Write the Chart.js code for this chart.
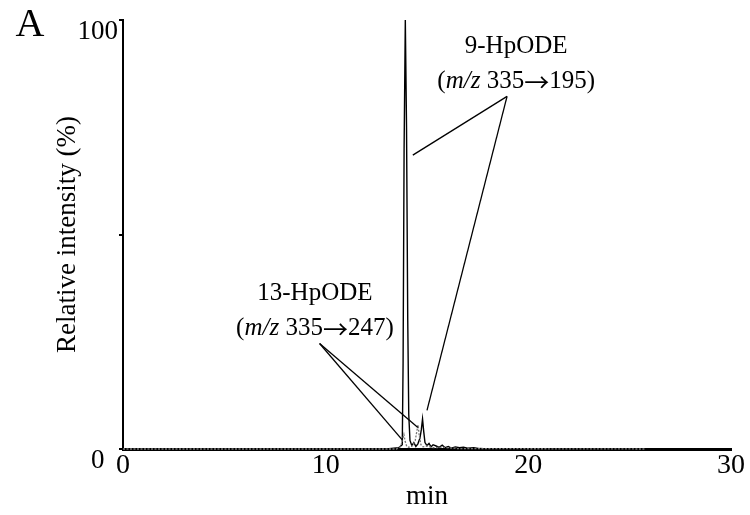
<!DOCTYPE html>
<html>
<head>
<meta charset="utf-8">
<script src="https://cdn.jsdelivr.net/npm/chart.js@4"></script>
<style>
  html, body { margin: 0; padding: 0; background: #fff; }
  #wrap { width: 750px; height: 515px; }
</style>
</head>
<body>
<div id="wrap"><canvas id="myChart" width="750" height="515"></canvas></div>
<script>
// retention time (min) and relative intensity (%)
const time9 = [0, 13.0, 13.6, 13.78, 13.82, 13.87, 13.93, 13.99, 14.05, 14.10, 14.16, 14.25, 14.35, 14.45, 14.55,
    14.65, 14.72, 14.78, 14.84, 14.9, 15.0, 15.1, 15.2, 15.3, 15.45, 15.6, 15.75, 15.9, 16.05, 16.2, 16.4, 16.6,
    16.8, 17.0, 17.3, 17.6, 18.0, 25.8];
const int9 = [0, 0, 0.3, 1.0, 20, 70, 100, 75, 30, 8, 2, 0.8, 1.5, 0.6, 1.2,
    2.5, 4.5, 7.0, 4.0, 1.5, 0.8, 1.3, 0.5, 1.0, 0.7, 0.4, 0.9, 0.3, 0.6, 0.2, 0.5, 0.3,
    0.4, 0.2, 0.3, 0.1, 0, 0];

const time13 = [0, 13.5, 13.7, 13.8, 13.86, 13.92, 14.0, 14.1, 14.3, 14.42, 14.5, 14.56, 14.62, 14.7, 14.8,
    15.0, 15.3, 15.8, 16.5, 25.8];
const int13 = [0, 0, 0.6, 2.2, 3.4, 1.8, 0.6, 0.4, 0.8, 2.0, 4.2, 5.6, 3.0, 1.0, 0.5,
    0.7, 0.3, 0.4, 0.1, 0];

const xTicks = [0, 10, 20, 30];
const yTicks = [0, 50, 100];
const yTickLabels = ['0', '', '100'];

// annotation anchors in data units: label centre, leader start, leader targets
const notes = [
    { lines: [[['9-HpODE', 0]], [['(', 0], ['m/z', 1], [' 335', 0], ['\u2192', 2], ['195)', 0]]],
      at: [19.4, 93.9], gap: 8.2, from: [18.95, 82.2], to: [[14.3, 68.5], [15.0, 9.0]] },
    { lines: [[['13-HpODE', 0]], [['(', 0], ['m/z', 1], [' 335', 0], ['\u2192', 2], ['247)', 0]]],
      at: [9.47, 36.2], gap: 8.2, from: [9.7, 24.6], to: [[13.8, 2.0], [14.55, 5.0]] }
];

const toPts = (xs, ys) => xs.map((x, i) => ({ x: x, y: ys[i] }));

Chart.defaults.font.family = '"Liberation Serif", "Times New Roman", serif';
Chart.defaults.color = '#000';

const FONTS = [
    '25px "Liberation Serif", serif',
    'italic 25px "Liberation Serif", serif',
    '25px "Noto Sans CJK JP", "DejaVu Sans", sans-serif'
];

function richText(ctx, parts, cx, cy) {
    let w = 0;
    parts.forEach(p => { ctx.font = FONTS[p[1]]; w += ctx.measureText(p[0]).width; });
    let x = cx - w / 2;
    parts.forEach(p => {
        ctx.font = FONTS[p[1]];
        ctx.fillText(p[0], x, cy + (p[1] === 2 ? 1 : 0));
        x += ctx.measureText(p[0]).width;
    });
}

const notesPlugin = {
    id: 'notes',
    afterDraw(chart) {
        const ctx = chart.ctx, xs = chart.scales.x, ys = chart.scales.y;
        ctx.save();
        ctx.fillStyle = '#000';
        ctx.strokeStyle = '#000';
        ctx.lineWidth = 1.3;
        ctx.textAlign = 'left';
        ctx.textBaseline = 'middle';
        notes.forEach(n => {
            n.lines.forEach((ln, i) => {
                richText(ctx, ln, xs.getPixelForValue(n.at[0]), ys.getPixelForValue(n.at[1] - i * n.gap));
            });
            const fx = xs.getPixelForValue(n.from[0]), fy = ys.getPixelForValue(n.from[1]);
            n.to.forEach(t => {
                ctx.beginPath();
                ctx.moveTo(fx, fy);
                ctx.lineTo(xs.getPixelForValue(t[0]), ys.getPixelForValue(t[1]));
                ctx.stroke();
            });
        });
        ctx.font = '40px "Liberation Serif", serif';
        ctx.textAlign = 'center';
        ctx.fillText('A', 30, 25);
        ctx.restore();
    }
};

const config = {
    type: 'line',
    data: {
        datasets: [
            {
                label: '13-HpODE',
                data: toPts(time13, int13),
                borderColor: '#777',
                borderWidth: 1.3,
                borderDash: [2, 1.5],
                pointRadius: 0,
                tension: 0
            },
            {
                label: '9-HpODE',
                data: toPts(time9, int9),
                borderColor: '#000',
                borderWidth: 1.4,
                pointRadius: 0,
                tension: 0
            }
        ]
    },
    options: {
        responsive: false,
        animation: false,
        clip: false,
        layout: { padding: { top: 20, right: 19, left: 0, bottom: 0 } },
        plugins: { legend: { display: false }, tooltip: { enabled: false } },
        scales: {
            x: {
                type: 'linear',
                min: 0,
                max: 30,
                afterBuildTicks: s => { s.ticks = xTicks.map(v => ({ value: v })); },
                afterFit: s => { s.height = 66; },
                grid: { display: false, drawTicks: false },
                border: { display: true, color: '#000', width: 3 },
                ticks: { padding: 0, maxRotation: 0, font: { size: 28 }, color: '#000' },
                title: { display: true, text: 'min', font: { size: 27 }, color: '#000', padding: { top: 0, bottom: 2 } }
            },
            y: {
                min: 0,
                max: 100,
                afterBuildTicks: s => { s.ticks = yTicks.map(v => ({ value: v })); },
                afterFit: s => { s.width = 123; },
                grid: { display: true, drawOnChartArea: false, drawTicks: true, tickLength: 4, color: '#000', lineWidth: 2 },
                border: { display: true, color: '#000', width: 2 },
                ticks: {
                    padding: 1,
                    labelOffset: 12,
                    font: { size: 27 },
                    color: '#000',
                    callback: v => {
                        const t = yTickLabels[yTicks.indexOf(v)];
                        return t === '0' ? '0\u2002' : t;
                    }
                },
                title: { display: true, text: 'Relative intensity (%)', font: { size: 27 }, color: '#000', padding: { top: 52, bottom: 0 } }
            }
        }
    },
    plugins: [notesPlugin]
};

var myChart = new Chart(document.getElementById('myChart'), config);
</script>
</body>
</html>
